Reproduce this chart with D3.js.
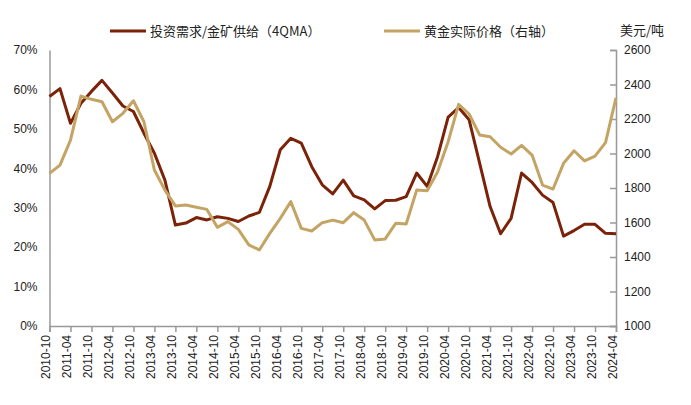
<!DOCTYPE html>
<html><head><meta charset="utf-8">
<script src="https://cdn.jsdelivr.net/npm/d3@7"></script>
<style>body{margin:0;background:#fff;font-family:"Noto Sans CJK SC","Liberation Sans",sans-serif;}</style>
</head><body><svg id="c" width="691" height="405"></svg>
<script>
// quarterly, 2010-10 .. 2024-04
var ratio = [58.2,60.2,51.4,56.5,59.5,62.3,59.1,55.8,54.4,48.9,43.8,37,25.6,26.1,27.5,26.9,27.7,27.3,26.5,27.9,28.8,35.4,44.7,47.6,46.4,40.4,35.8,33.5,37,33,32,29.7,31.8,31.9,32.8,38.8,35.4,43,53,55.4,52.3,41.3,30.3,23.4,27.3,38.8,36.4,33.2,31.3,22.8,24.2,25.8,25.8,23.5,23.4];
var gold = [1885,1933,2078,2333,2314,2300,2184,2233,2306,2184,1904,1788,1696,1701,1688,1676,1572,1605,1560,1470,1441,1537,1624,1721,1566,1551,1599,1614,1599,1657,1614,1499,1505,1595,1591,1788,1784,1894,2068,2285,2229,2107,2097,2036,1997,2047,1991,1817,1794,1943,2016,1957,1985,2063,2323];
var leftTicks = [0,10,20,30,40,50,60,70];
var rightTicks = [1000,1200,1400,1600,1800,2000,2200,2400,2600];

var quarters = ratio.map(function(d, i) {
  var m = 10 + i * 3;
  var y = 2010 + Math.floor((m - 1) / 12);
  var mm = ((m - 1) % 12) + 1;
  return y + '-' + (mm < 10 ? '0' : '') + mm;
});

var svg = d3.select('#c');
var x0 = 49.5, x1 = 616, yTop = 50, yBot = 326;
var x = d3.scaleLinear().domain([0, quarters.length - 1]).range([x0, x1]);
var yl = d3.scaleLinear().domain([0, 70]).range([yBot, yTop]);
var yr = d3.scaleLinear().domain([1000, 2600]).range([yBot, yTop]);

var axisColor = '#999';
var font = 12;

// left axis
var la = svg.append('g').attr('transform', 'translate(' + x0 + ',0)')
  .call(d3.axisLeft(yl).tickValues(leftTicks).tickSize(0).tickPadding(12).tickFormat(function(d) { return d + '%'; }));
// right axis
var ra = svg.append('g').attr('transform', 'translate(' + x1 + ',0)')
  .call(d3.axisRight(yr).tickValues(rightTicks).tickSize(-6).tickPadding(8).tickFormat(d3.format('d')));
// bottom axis
var ba = svg.append('g').attr('transform', 'translate(0,' + yBot + ')')
  .call(d3.axisBottom(x).tickValues(d3.range(0, quarters.length, 2)).tickSize(6).tickFormat(function(i) { return quarters[i]; }));
ba.selectAll('text').attr('transform', 'rotate(-90)').attr('x', -9).attr('y', -4).attr('dy', '0.35em').style('text-anchor', 'end');

[la, ra, ba].forEach(function(g) {
  g.select('.domain').attr('stroke', axisColor).attr('stroke-width', 1.5);
  g.selectAll('line').attr('stroke', axisColor).attr('stroke-width', 1.5);
  g.selectAll('text').attr('fill', '#222').style('font-size', font + 'px').style('font-family', '"Liberation Sans",sans-serif');
});

var lineL = d3.line().x(function(d, i) { return x(i); }).y(function(d) { return yl(d); });
var lineR = d3.line().x(function(d, i) { return x(i); }).y(function(d) { return yr(d); });

svg.append('path').datum(ratio).attr('d', lineL).attr('fill', 'none').attr('stroke', '#7a2308').attr('stroke-width', 3).attr('stroke-linejoin', 'round');
svg.append('path').datum(gold).attr('d', lineR).attr('fill', 'none').attr('stroke', '#c4a464').attr('stroke-width', 3).attr('stroke-linejoin', 'round');

// legend
var legend = [
  { label: '投资需求/金矿供给（4QMA）', color: '#7a2308', x: 110 },
  { label: '黄金实际价格（右轴）', color: '#c4a464', x: 384 }
];
legend.forEach(function(l) {
  svg.append('line').attr('x1', l.x).attr('x2', l.x + 36).attr('y1', 31).attr('y2', 31).attr('stroke', l.color).attr('stroke-width', 3);
  svg.append('text').attr('x', l.x + 40).attr('y', 35.5).text(l.label).style('font-size', '13px').attr('fill', '#222');
});
svg.append('text').attr('x', 620).attr('y', 35).text('美元/吨').style('font-size', '13px').attr('fill', '#222');
</script></body></html>
